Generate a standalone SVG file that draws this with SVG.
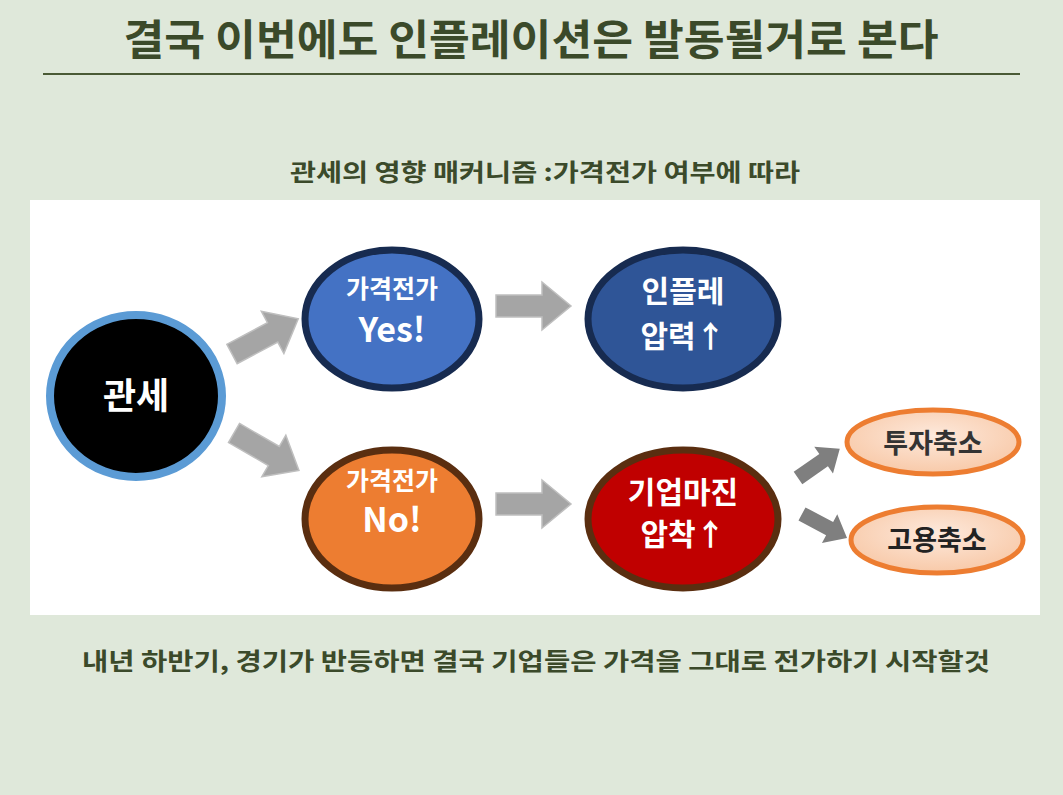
<svg xmlns="http://www.w3.org/2000/svg" width="1063" height="795" viewBox="0 0 1063 795">
<style>
text{font-family:"Noto Sans CJK KR","Noto Sans",sans-serif;font-weight:bold;text-anchor:middle}
.hd{fill:#3b4a2a}
.w{fill:#fff}
.arr{fill:#a5a5a5;stroke:#bfbfbf;stroke-width:1.5}
.arr2{fill:#7f7f7f}
</style>
<defs>
<path id="ba" d="M0,-11 H46 V-24 L75,0 L46,24 V11 H0 Z"/>
<radialGradient id="pk" cx="50%" cy="40%" r="60%"><stop offset="0" stop-color="#fde9dc"/><stop offset="1" stop-color="#f8c9a8"/></radialGradient>
</defs>
<rect width="1063" height="795" fill="#dfe8da"/>
<text x="531" y="55" font-size="42" class="hd" textLength="815" lengthAdjust="spacingAndGlyphs">결국 이번에도 인플레이션은 발동될거로 본다</text>
<line x1="43" y1="74" x2="1020" y2="74" stroke="#4a5a35" stroke-width="2"/>
<text x="545" y="181" font-size="24" class="hd" textLength="510" lengthAdjust="spacingAndGlyphs">관세의 영향 매커니즘 :가격전가 여부에 따라</text>
<rect x="30" y="200" width="1010" height="415" fill="#fff"/>
<g id="connectors">
<use href="#ba" class="arr" transform="translate(232,354) rotate(-28)"/>
<use href="#ba" class="arr" transform="translate(234,433) rotate(30)"/>
<use href="#ba" class="arr" transform="translate(496,306)"/>
<use href="#ba" class="arr" transform="translate(496,504)"/>
<use href="#ba" class="arr2" transform="translate(798,478) scale(0.68) rotate(-35)"/>
<use href="#ba" class="arr2" transform="translate(802,514) scale(0.68) rotate(28)"/>
</g>
<g id="n-tariff"><ellipse cx="136" cy="396" rx="86" ry="81" fill="#000" stroke="#5b9bd5" stroke-width="8"/><text x="136" y="409" font-size="36" class="w">관세</text></g>
<g id="n-yes"><ellipse cx="392" cy="319" rx="87" ry="69" fill="#4472c4" stroke="#172b50" stroke-width="7"/><text x="392" y="298" font-size="25" class="w">가격전가</text><text x="392" y="342" font-size="34" class="w" font-weight="normal">Yes!</text></g>
<g id="n-no"><ellipse cx="392" cy="519" rx="87" ry="69" fill="#ed7d31" stroke="#5a2e10" stroke-width="7"/><text x="392" y="490" font-size="25" class="w">가격전가</text><text x="392" y="532" font-size="34" class="w">No!</text></g>
<g id="n-infl"><ellipse cx="683" cy="319" rx="95" ry="69" fill="#2f5597" stroke="#172b50" stroke-width="7"/><text x="683" y="302" font-size="30" class="w">인플레</text><text x="683" y="347" font-size="30" class="w">압력↑</text></g>
<g id="n-margin"><ellipse cx="683" cy="519" rx="95" ry="69" fill="#c00000" stroke="#5a2e10" stroke-width="7"/><text x="683" y="503" font-size="30" class="w">기업마진</text><text x="683" y="545" font-size="30" class="w">압착↑</text></g>
<g id="n-invest"><ellipse cx="933" cy="442" rx="86" ry="32" fill="url(#pk)" stroke="#ed7d31" stroke-width="5"/><text x="933" y="453" font-size="27" fill="#333">투자축소</text></g>
<g id="n-employ"><ellipse cx="937" cy="540" rx="86" ry="33" fill="url(#pk)" stroke="#ed7d31" stroke-width="5"/><text x="937" y="550" font-size="27" fill="#222">고용축소</text></g>
<text x="536" y="670" font-size="24" class="hd" textLength="908" lengthAdjust="spacingAndGlyphs">내년 하반기, 경기가 반등하면 결국 기업들은 가격을 그대로 전가하기 시작할것</text>
</svg>
